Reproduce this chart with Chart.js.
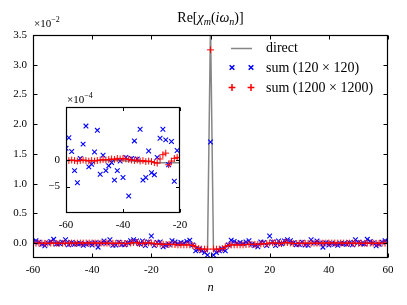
<!DOCTYPE html>
<html><head><meta charset="utf-8">
<script src="https://cdn.jsdelivr.net/npm/chart.js@4.4.0/dist/chart.umd.min.js"></script>
<style>
html,body{margin:0;padding:0;background:#fff;}
#wrap{position:relative;width:407px;height:305px;overflow:hidden;}
#main{position:absolute;left:0;top:0;}
#inset{position:absolute;left:36px;top:86px;}
</style></head><body>
<div id="wrap"><canvas id="main" width="407" height="305"></canvas><canvas id="inset" width="160" height="146"></canvas></div>
<script>
// ---- data (values in units of 1e-4) ----
const mainXTicks = [-60,-40,-20,0,20,40,60];
const mainYTicks = [0,0.5,1,1.5,2,2.5,3,3.5];
const insetXTicks = [-60,-40,-20];
const insetYTicks = [-5,0];
const nValues = [-60,-59,-58,-57,-56,-55,-54,-53,-52,-51,-50,-49,-48,-47,-46,-45,-44,-43,-42,-41,
 -40,-39,-38,-37,-36,-35,-34,-33,-32,-31,-30,-29,-28,-27,-26,-25,-24,-23,-22,-21,
 -20,-19,-18,-17,-16,-15,-14,-13,-12,-11,-10,-9,-8,-7,-6,-5,-4,-3,-2,-1,
 0,1,2,3,4,5,6,7,8,9,10,11,12,13,14,15,16,17,18,19,
 20,21,22,23,24,25,26,27,28,29,30,31,32,33,34,35,36,37,38,39,
 40,41,42,43,44,45,46,47,48,49,50,51,52,53,54,55,56,57,58,59,60];
const directVals = [-0.1,-0.1,-0.1,-0.1,-0.1,-0.1,-0.1,-0.1,-0.1,-0.1,-0.1,-0.1,-0.1,-0.1,-0.1,-0.1,-0.1,-0.1,-0.1,-0.1,
 -0.1,-0.2,-0.2,-0.2,-0.2,-0.3,-0.3,-0.3,-0.3,-0.3,-0.3,-0.5,-0.5,-0.5,-0.5,-0.5,-0.5,-0.5,-0.5,-0.5,
 -0.5,-1,-1,-1.5,-1.5,-1.5,-2,-2,-2.5,-2.5,-2.5,-2.5,-2.5,-3,-4,-6,-9,-10.5,-11,-11,
 370,-11,-11,-10.5,-9,-6,-4,-3,-2.5,-2.5,-2.5,-2.5,-2.5,-2,-2,-1.5,-1.5,-1.5,-1,-1,
 -0.5,-0.5,-0.5,-0.5,-0.5,-0.5,-0.5,-0.5,-0.5,-0.5,-0.3,-0.3,-0.3,-0.3,-0.3,-0.3,-0.2,-0.2,-0.2,-0.2,
 -0.1,-0.1,-0.1,-0.1,-0.1,-0.1,-0.1,-0.1,-0.1,-0.1,-0.1,-0.1,-0.1,-0.1,-0.1,-0.1,-0.1,-0.1,-0.1,-0.1,-0.1];
const sum120Vals = [2.2,4.2,1.6,-2.0,-4.3,0.3,3.0,6.4,-1.3,-0.8,1.5,5.6,-2.7,0.9,-2.0,-1.1,-0.5,-3.8,-2.0,-0.2,
 -3.3,0.5,-6.8,0.3,3.6,0.2,5.8,-3.8,-3.3,1.7,-2.4,-2.8,0.5,4.1,5.8,3.8,-0.9,3.5,-4.0,1.8,
 12,-4,1,2,-6,-4,-2,4,2,-1,1,0,3,5,-3,-13,-10,-13,-16,-20,
 170,-20,-16,-13,-10,-13,-3,5,3,0,1,-1,2,4,-2,-4,-6,2,1,-4,
 12,1.8,-4.0,3.5,-0.9,3.8,5.8,4.1,0.5,-2.8,-2.4,1.7,-3.3,-3.8,5.8,0.2,3.6,0.3,-6.8,0.5,
 -3.3,-0.2,-2.0,-3.8,-0.5,-1.1,-2.0,0.9,-2.7,5.6,1.5,-0.8,-1.3,6.4,3.0,0.3,-4.3,-2.0,1.6,4.2,2.2];
const sum1200Vals = [-0.1,-0.1,0.0,-0.1,-0.2,-0.1,0.0,-0.1,-0.2,-0.1,-0.2,-0.1,0.0,0.1,0.0,0.1,0.2,0.1,0.3,0.2,
 0.3,0.2,0.1,0.0,-0.1,0.0,-0.2,-0.1,-0.3,-0.2,-0.3,-0.5,-0.6,0.2,1.0,1.3,-0.9,-0.2,0.3,0.5,
 0.4,-1,-1,-1.5,-2,-2,-2,-2,-2.5,-3,-3,-3,-3,-3,-4,-6,-9,-10,-10,-10,
 325,-10,-10,-10,-9,-6,-4,-3,-3,-3,-3,-3,-2.5,-2,-2,-2,-2,-1.5,-1,-1,
 0.4,0.5,0.3,-0.2,-0.9,1.3,1.0,0.2,-0.6,-0.5,-0.3,-0.2,-0.3,-0.1,-0.2,0.0,-0.1,0.0,0.1,0.2,
 0.3,0.2,0.3,0.1,0.2,0.1,0.0,0.1,0.0,-0.1,-0.2,-0.1,-0.2,-0.1,0.0,-0.1,-0.2,-0.1,0.0,-0.1,-0.1];
const MAIN_DIV = 100;   // main axis in units of 1e-2
const INSET_DIV = 1;    // inset axis in units of 1e-4

// ---- helpers ----
const FAM = '"Liberation Serif","DejaVu Serif",serif';
const F = (s, it) => (it ? 'italic ' : '') + s + 'px ' + FAM;
Chart.defaults.color = '#000';
Chart.defaults.font.family = FAM;

function pts(vals, div){ return nValues.map((n,i)=>({x:n, y:vals[i]/div})); }

function drawRich(ctx, parts, x, y, align){
  let w = 0;
  parts.forEach(p => { ctx.font = F(p.s, p.i); p.w = ctx.measureText(p.t).width; w += p.w; });
  let cx = align === 'center' ? x - w/2 : x;
  ctx.textBaseline = 'alphabetic'; ctx.textAlign = 'left'; ctx.fillStyle = '#000';
  parts.forEach(p => { ctx.font = F(p.s, p.i); ctx.fillText(p.t, cx, y + (p.dy||0)); cx += p.w; });
}

function frameAndTicks(chart, xt, yt, len){
  const ctx = chart.ctx, a = chart.chartArea;
  const xs = chart.scales.x, ys = chart.scales.y;
  const L = Math.round(a.left)+0.5, R = Math.round(a.right)-0.5, T = Math.round(a.top)+0.5, B = Math.round(a.bottom)-0.5;
  ctx.save();
  ctx.strokeStyle = '#000'; ctx.lineWidth = 1;
  ctx.beginPath();
  xt.forEach(v => { const px = Math.round(xs.getPixelForValue(v))+0.5;
    ctx.moveTo(px, B); ctx.lineTo(px, B-len); ctx.moveTo(px, T); ctx.lineTo(px, T+len); });
  yt.forEach(v => { const py = Math.round(ys.getPixelForValue(v))+0.5;
    ctx.moveTo(L, py); ctx.lineTo(L+len, py); ctx.moveTo(R, py); ctx.lineTo(R-len, py); });
  ctx.stroke();
  ctx.lineWidth = 1.2;
  ctx.strokeRect(L, T, R-L, B-T);
  ctx.restore();
}

function datasetsFor(div){
  return [
    { label:'sum (1200 × 1200)', data: pts(sum1200Vals, div), showLine:false, pointStyle:'cross',
      pointRadius:3.4, pointBorderWidth:1, borderColor:'#ff0000', pointBorderColor:'#ff0000', order:1, clip:0 },
    { label:'sum (120 × 120)', data: pts(sum120Vals, div), showLine:false, pointStyle:'crossRot',
      pointRadius:3.3, pointBorderWidth:1.1, borderColor:'#0000ff', pointBorderColor:'#0000ff', order:2, clip:0 },
    { label:'direct', data: pts(directVals, div), showLine:true, pointRadius:0, borderColor:'rgba(128,128,128,0.95)',
      borderWidth:1.5, fill:false, tension:0, order:3, clip:0 }
  ];
}

const mainPlugin = {
  id:'mainDeco',
  afterDraw(chart){
    const ctx = chart.ctx, a = chart.chartArea;
    frameAndTicks(chart, mainXTicks, mainYTicks, 4);
    const cx = (a.left + a.right)/2;
    drawRich(ctx, [{t:'Re[',s:14},{t:'χ',s:14,i:true},{t:'m',s:10,i:true,dy:3},{t:'(',s:14},{t:'i',s:14,i:true},
      {t:'ω',s:14,i:true},{t:'n',s:10,i:true,dy:3},{t:')]',s:14}], cx, 22, 'center');
    drawRich(ctx, [{t:'×10',s:11},{t:'−2',s:8,dy:-5}], a.left+1, 27, 'left');
    drawRich(ctx, [{t:'n',s:12.5,i:true}], cx, 291, 'center');
    // legend
    ctx.save();
    ctx.strokeStyle = 'rgba(128,128,128,0.95)'; ctx.lineWidth = 1.5;
    ctx.beginPath(); ctx.moveTo(231, 48.5); ctx.lineTo(252, 48.5); ctx.stroke();
    const hb = {pointStyle:'crossRot', radius:3.3, borderWidth:1.1};
    const hr = {pointStyle:'cross', radius:3.4, borderWidth:1};
    ctx.strokeStyle = '#0000ff';
    Chart.helpers.drawPoint(ctx, hb, 232, 67.5); ctx.strokeStyle = '#0000ff'; Chart.helpers.drawPoint(ctx, hb, 251, 67.5);
    ctx.strokeStyle = '#ff0000';
    Chart.helpers.drawPoint(ctx, hr, 232, 87.5); ctx.strokeStyle = '#ff0000'; Chart.helpers.drawPoint(ctx, hr, 251, 87.5);
    ctx.fillStyle = '#000'; ctx.font = F(14); ctx.textAlign = 'left'; ctx.textBaseline = 'middle';
    ctx.fillText('direct', 266, 48);
    ctx.fillText('sum (120 × 120)', 266, 68);
    ctx.fillText('sum (1200 × 1200)', 266, 88);
    ctx.restore();
  }
};

new Chart(document.getElementById('main'), {
  type:'scatter',
  data:{ datasets: datasetsFor(MAIN_DIV) },
  options:{
    responsive:false, animation:false, events:[],
    layout:{ padding:{ top:35, right:19, left:0, bottom:0 } },
    plugins:{ legend:{display:false}, tooltip:{enabled:false} },
    scales:{
      x:{ type:'linear', min:-60, max:60,
        grid:{display:false, drawTicks:false}, border:{display:false},
        afterBuildTicks: s => { s.ticks = mainXTicks.map(v=>({value:v})); },
        afterFit: s => { s.height = 47; },
        ticks:{ font:{size:11, family:FAM}, padding:6, maxRotation:0, callback: v => String(v) } },
      y:{ type:'linear', min:-0.25, max:3.5,
        grid:{display:false, drawTicks:false}, border:{display:false},
        afterBuildTicks: s => { s.ticks = mainYTicks.map(v=>({value:v})); },
        afterFit: s => { s.width = 33; },
        ticks:{ font:{size:11, family:FAM}, padding:6, callback: v => Number(v).toFixed(1) } }
    }
  },
  plugins:[mainPlugin]
});

const insetPlugin = {
  id:'insetDeco',
  beforeDatasetsDraw(chart){
    const a = chart.chartArea, ctx = chart.ctx;
    ctx.save(); ctx.fillStyle = '#fff'; ctx.fillRect(a.left, a.top, a.right-a.left, a.bottom-a.top); ctx.restore();
  },
  afterDraw(chart){
    const a = chart.chartArea;
    frameAndTicks(chart, insetXTicks, insetYTicks, 3.5);
    drawRich(chart.ctx, [{t:'×10',s:11},{t:'−4',s:8,dy:-5}], a.left+1, 17, 'left');
  }
};

new Chart(document.getElementById('inset'), {
  type:'scatter',
  data:{ datasets: datasetsFor(INSET_DIV) },
  options:{
    responsive:false, animation:false, events:[],
    layout:{ padding:{ top:21, right:16, left:0, bottom:0 } },
    plugins:{ legend:{display:false}, tooltip:{enabled:false} },
    scales:{
      x:{ type:'linear', min:-60, max:-20,
        grid:{display:false, drawTicks:false}, border:{display:false},
        afterBuildTicks: s => { s.ticks = insetXTicks.map(v=>({value:v})); },
        afterFit: s => { s.height = 19; },
        ticks:{ font:{size:11, family:FAM}, padding:6, maxRotation:0, callback: v => String(v) } },
      y:{ type:'linear', min:-10, max:10,
        grid:{display:false, drawTicks:false}, border:{display:false},
        afterBuildTicks: s => { s.ticks = insetYTicks.map(v=>({value:v})); },
        afterFit: s => { s.width = 30; },
        ticks:{ font:{size:11, family:FAM}, padding:6, callback: v => v < 0 ? '\u2212' + Math.abs(v) : String(v) } }
    }
  },
  plugins:[insetPlugin]
});
</script>
</body></html>
